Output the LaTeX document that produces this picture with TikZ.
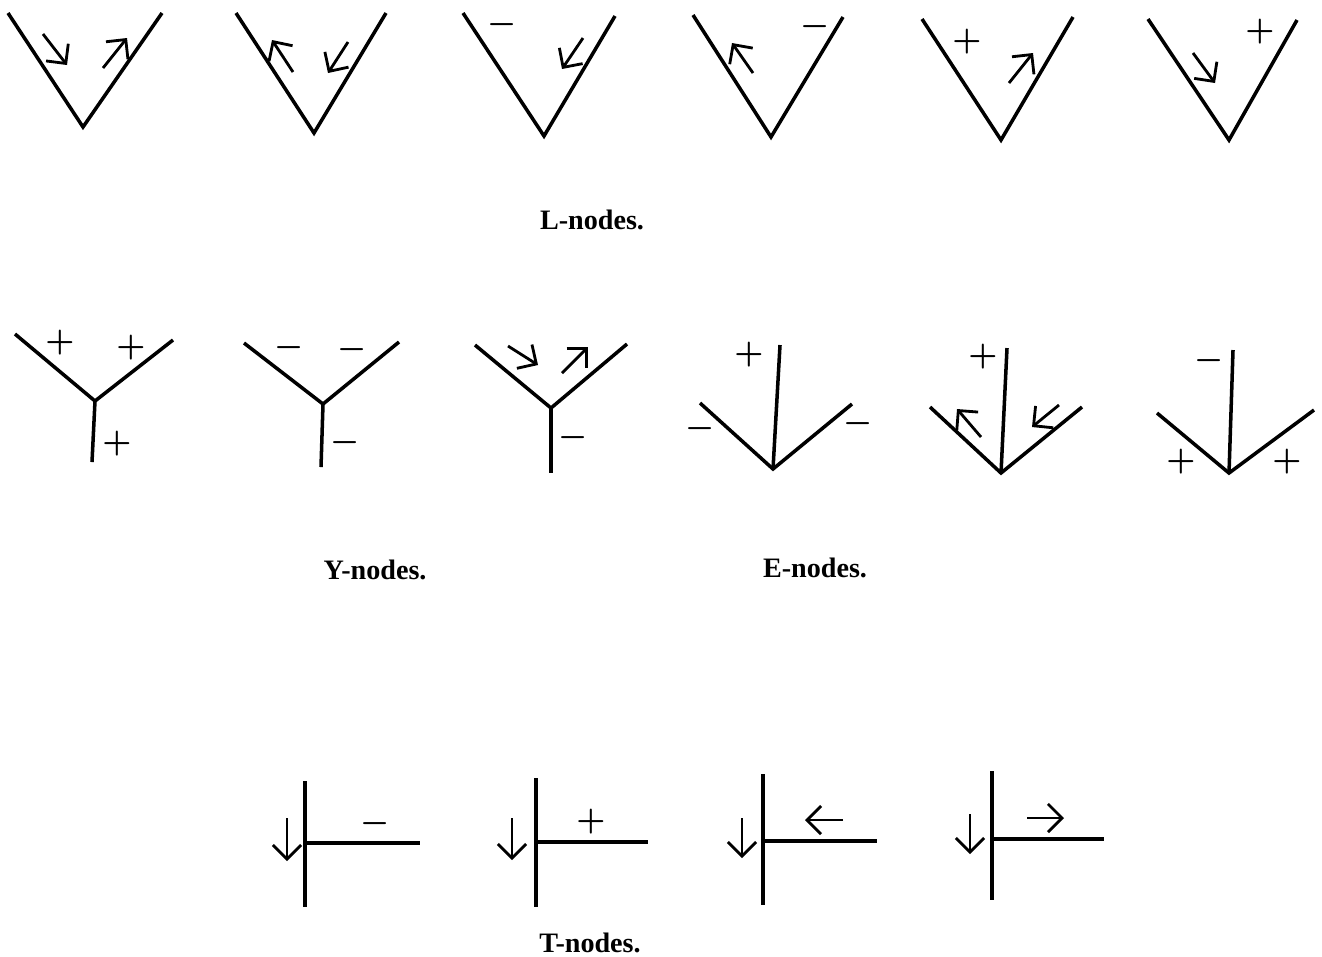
\documentclass[tikz,border=0pt]{standalone}
\usepackage{fontspec}
\setmainfont{Liberation Serif}
\usetikzlibrary{arrows.meta}
\tikzset{
  line/.style={line width=1pt,line join=miter},
  flow/.style={line width=0.8pt,-{Straight Barb[length=4pt,width=8pt]}},
  sgn/.style={inner sep=0pt,font=\fontsize{9}{9}\selectfont\boldmath},
  caption/.style={inner sep=0pt,font=\fontsize{8}{10}\selectfont\bfseries}
}
\begin{document}
\begin{tikzpicture}[x=0.01cm,y=-0.01cm]
 \useasboundingbox (0,0) rectangle (1322,956);
 % L-nodes
 \begin{scope}
  \draw[line] (8,13) -- (83,127) -- (162,13);
  \draw[flow] (43,34) -- (67,65);
  \draw[flow] (103,68) -- (127,38);
  \draw[line] (236,13) -- (314,133) -- (386,13);
  \draw[flow] (293,72) -- (272,40);
  \draw[flow] (348,42) -- (328,73);
  \draw[line] (463,13) -- (544,136) -- (615,16);
  \node[sgn] (l3a) at (502,25) {$-$};
  \draw[flow] (583,38) -- (562,69);
  \draw[line] (693,15) -- (771,137) -- (843,17);
  \node[sgn] (l4a) at (815,27) {$-$};
  \draw[flow] (753,73) -- (732,43);
  \draw[line] (922,19) -- (1001,140) -- (1073,17);
  \node[sgn] (l5a) at (967,42) {$+$};
  \draw[flow] (1009,83) -- (1033,53);
  \draw[line] (1148,19) -- (1229,140) -- (1297,20);
  \node[sgn] (l6a) at (1260,32) {$+$};
  \draw[flow] (1193,53) -- (1215,83);
  \node[caption] (lcap) at (592,220) {L-nodes.};
 \end{scope}
 % Y-nodes
 \begin{scope}
  \draw[line] (15,334) -- (95,401) -- (173,340);
  \draw[line] (95,401) -- (92,462);
  \node[sgn] (y1a) at (60,343) {$+$};
  \node[sgn] (y1b) at (131,348) {$+$};
  \node[sgn] (y1c) at (117,444) {$+$};
  \draw[line] (244,343) -- (323,404) -- (399,342);
  \draw[line] (323,404) -- (321,467);
  \node[sgn] (y2a) at (289,348) {$-$};
  \node[sgn] (y2b) at (352,350) {$-$};
  \node[sgn] (y2c) at (345,443) {$-$};
  \draw[line] (475,345) -- (551,408) -- (627,344);
  \draw[line] (551,408) -- (551,473);
  \draw[flow] (508,346) -- (538,365);
  \draw[flow] (562,373) -- (588,347);
  \node[sgn] (y3c) at (573,438) {$-$};
  \node[caption] (ycap) at (375,570) {Y-nodes.};
 \end{scope}
 % E-nodes
 \begin{scope}
  \draw[line] (700,403) -- (773,469) -- (852,404);
  \draw[line] (773,469) -- (780,345);
  \node[sgn] (e1a) at (749,355) {$+$};
  \node[sgn] (e1b) at (700,429) {$-$};
  \node[sgn] (e1c) at (858,424) {$-$};
  \draw[line] (930,407) -- (1001,473) -- (1082,407);
  \draw[line] (1001,473) -- (1007,348);
  \node[sgn] (e2a) at (983,357) {$+$};
  \draw[flow] (981,437) -- (957,409);
  \draw[flow] (1059,405) -- (1032,427);
  \draw[line] (1157,413) -- (1229,473) -- (1314,410);
  \draw[line] (1229,473) -- (1233,350);
  \node[sgn] (e3a) at (1209,361) {$-$};
  \node[sgn] (e3b) at (1181,462) {$+$};
  \node[sgn] (e3c) at (1287,462) {$+$};
  \node[caption] (ecap) at (815,568) {E-nodes.};
 \end{scope}
 % T-nodes
 \begin{scope}
  \draw[line] (305,781) -- (305,907);
  \draw[line] (305,843) -- (420,843);
  \node[sgn] (t1a) at (375,824) {$-$};
  \draw[flow] (287,818) -- (287,861);
  \draw[line] (536,778) -- (536,907);
  \draw[line] (536,842) -- (648,842);
  \node[sgn] (t2a) at (591,822) {$+$};
  \draw[flow] (512,818) -- (512,860);
  \draw[line] (763,774) -- (763,905);
  \draw[line] (763,841) -- (877,841);
  \draw[flow] (843,820) -- (805,820);
  \draw[flow] (742,818) -- (742,858);
  \draw[line] (992,771) -- (992,900);
  \draw[line] (992,839) -- (1104,839);
  \draw[flow] (1027,818) -- (1064,818);
  \draw[flow] (970,814) -- (970,854);
  \node[caption] (tcap) at (590,943) {T-nodes.};
 \end{scope}
\end{tikzpicture}
\end{document}
